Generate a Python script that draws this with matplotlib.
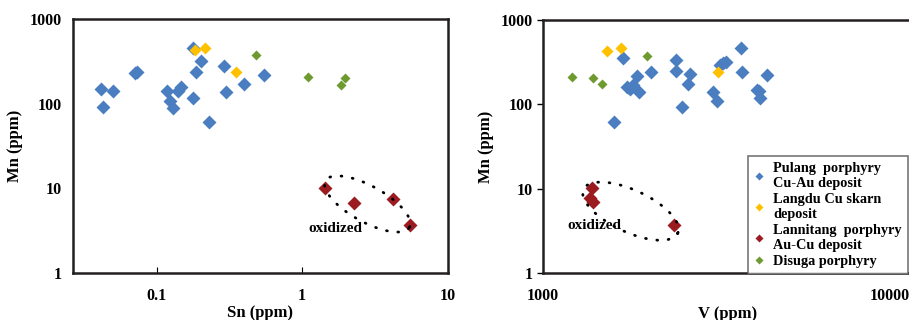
import matplotlib
matplotlib.use('Agg')
import matplotlib.pyplot as plt
from matplotlib.lines import Line2D
import numpy as np

plt.rcParams['font.family'] = ['Liberation Serif', 'DejaVu Serif']
plt.rcParams['font.weight'] = 'bold'

# ---- Sn - Mn (left) ----
sn_pulang = [0.0413, 0.0428, 0.0502, 0.071, 0.0736, 0.117, 0.124, 0.129, 0.141, 0.147,
             0.177, 0.177, 0.187, 0.202, 0.229, 0.289, 0.302, 0.396, 0.544]
mn_pulang_sn = [148, 91, 143, 229, 240, 143, 108, 88, 143, 157,
                461, 118, 240, 316, 60, 280, 137, 170, 219]
sn_langdu = [0.184, 0.215, 0.352]
mn_langdu_sn = [433, 454, 240]
sn_lannitang = [1.43, 2.27, 4.22, 5.47]
mn_lannitang_sn = [10.1, 6.6, 7.45, 3.66]
sn_disuga = [0.479, 1.09, 1.84, 1.96]
mn_disuga_sn = [372, 206, 167, 200]

# ---- V - Mn (right) ----
v_pulang = [1706, 1606, 1746, 1786, 1825, 1866, 1896, 2048, 2432, 2432, 2531, 2617,
            2659, 3105, 3193, 3243, 3317, 3368, 3744, 3770, 4157, 4200, 4229, 4448]
mn_pulang_v = [351, 61, 160, 151, 170, 217, 139, 244, 336, 249, 92.5, 173,
               229, 139, 108, 288, 312, 319, 461, 244, 148, 142, 120, 223]
v_langdu = [1529, 1678, 3207]
mn_langdu_v = [430, 461, 244]
v_lannitang = [1384, 1369, 1400, 2390]
mn_lannitang_v = [10.3, 7.7, 6.9, 3.73]
v_disuga = [1212, 1394, 1479, 1994]
mn_disuga_v = [213, 204, 173, 375]

labels = ['Pulang  porphyry\nCu-Au deposit', 'Langdu Cu skarn\ndeposit',
          'Lannitang  porphyry\nAu-Cu deposit', 'Disuga porphyry']
colors = ['#4A7EC0', '#FFC000', '#9B1B21', '#6F9A30']
sizes = [7, 6, 7, 5.5]


def dotted_ellipse(ax, center, a, b, angle):
    # ellipse drawn in screen pixels around a data-space center
    cx, cy = ax.transData.transform(center)
    t = np.linspace(0, 2 * np.pi, 200)
    th = np.deg2rad(angle)
    px = a * np.cos(t) * np.cos(th) - b * np.sin(t) * np.sin(th)
    py = a * np.cos(t) * np.sin(th) + b * np.sin(t) * np.cos(th)
    pts = ax.transData.inverted().transform(np.column_stack([cx + px, cy + py]))
    ax.plot(pts[:, 0], pts[:, 1], color='black', lw=2.0,
            linestyle=(0, (0.3, 3.8)), dash_capstyle='round')


fig = plt.figure(figsize=(9.09, 3.2), dpi=100)
ax1 = fig.add_axes([0.080, 0.148, 0.4125, 0.792])
ax2 = fig.add_axes([0.597, 0.147, 0.406, 0.791])

left_sets = [(sn_pulang, mn_pulang_sn), (sn_langdu, mn_langdu_sn),
             (sn_lannitang, mn_lannitang_sn), (sn_disuga, mn_disuga_sn)]
right_sets = [(v_pulang, mn_pulang_v), (v_langdu, mn_langdu_v),
              (v_lannitang, mn_lannitang_v), (v_disuga, mn_disuga_v)]

for ax, sets in [(ax1, left_sets), (ax2, right_sets)]:
    for (xs, ys), c, ms in zip(sets, colors, sizes):
        ax.plot(xs, ys, 'D', color=c, ms=ms, mec='none')
    ax.set_xscale('log')
    ax.set_yscale('log')
    ax.set_ylim(1, 1000)
    ax.set_yticks([1, 10, 100, 1000])
    ax.set_yticklabels(['1', '10', '100', '1000'])
    ax.minorticks_off()
    ax.set_ylabel('Mn (ppm)', fontsize=12, fontweight='bold', labelpad=5)
    for s in ax.spines.values():
        s.set_linewidth(1.8)
        s.set_color('#231f20')
    ax.tick_params(labelsize=11.5)

ax1.set_xlim(0.0265, 10)
ax1.set_xticks([0.1, 1, 10])
ax1.set_xticklabels(['0.1', '1', '10'])
ax1.minorticks_off()
ax1.tick_params(axis='x', direction='in', length=4, width=0.8, pad=11)
ax1.tick_params(axis='y', length=0, pad=8)
ax1.set_xlabel('Sn (ppm)', fontsize=12, fontweight='bold', labelpad=1)

ax2.set_xlim(1000, 11600)
ax2.set_xticks([1000, 10000])
ax2.set_xticklabels(['1000', '10000'])
ax2.minorticks_off()
ax2.tick_params(axis='x', length=0, pad=11)
ax2.tick_params(axis='y', direction='out', length=4, width=1, pad=3)
ax2.set_xlabel('V (ppm)', fontsize=12, fontweight='bold', labelpad=1)

ax1.text(1.68, 3.35, 'oxidized', fontsize=11, fontweight='bold', ha='center', va='center')
ax2.text(1412, 3.63, 'oxidized', fontsize=11, fontweight='bold', ha='center', va='center')

dotted_ellipse(ax1, (2.81, 6.5), 48, 18, -29)
dotted_ellipse(ax2, (1794, 5.4), 52, 21, -25)

handles = [Line2D([], [], marker='D', ls='none', color=c, ms=4, mec='none') for c in colors]
leg = ax2.legend(handles, labels, loc='upper left',
                 bbox_to_anchor=(747.7 / 909, 1 - 156 / 320), bbox_transform=fig.transFigure,
                 frameon=True, fancybox=False, borderaxespad=0,
                 handlelength=0.8, handletextpad=0.6, labelspacing=0.22,
                 borderpad=0.4, prop={'weight': 'bold', 'size': 10.3})
leg.get_frame().set_edgecolor('#555555')
leg.get_frame().set_linewidth(1.2)

fig.savefig('out.png', dpi=100)
